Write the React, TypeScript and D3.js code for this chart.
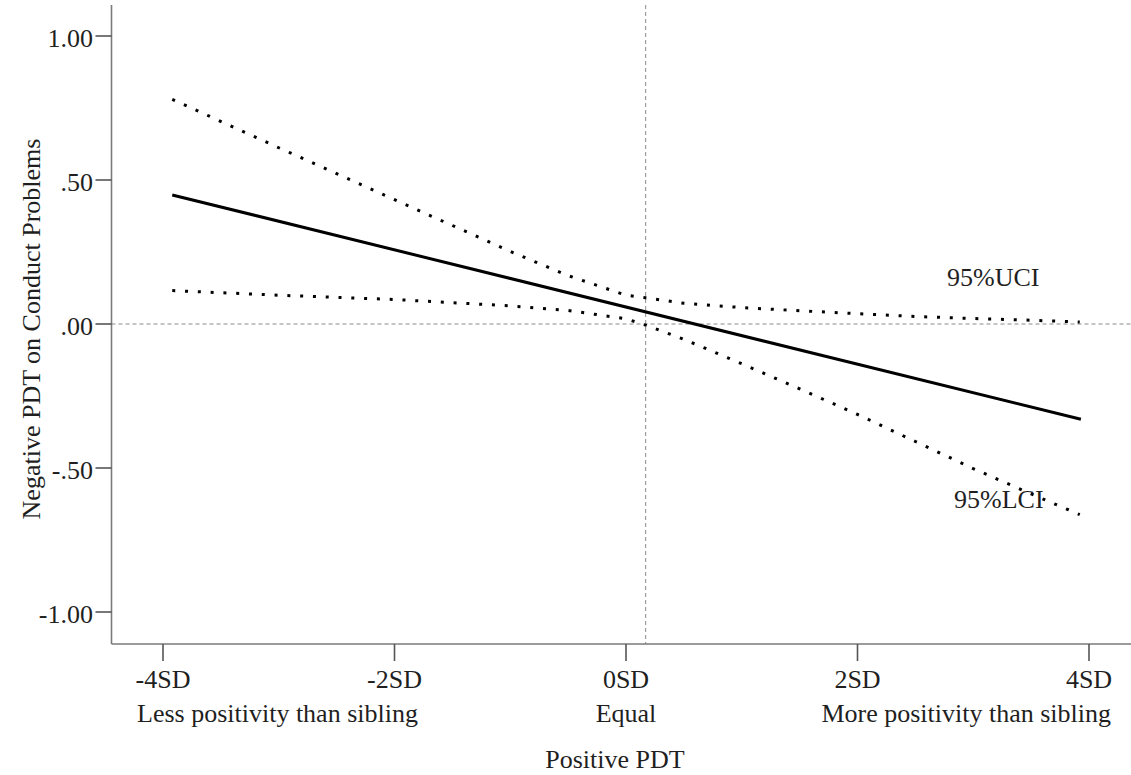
import React from "react";
import * as d3 from "d3";

// ---- data ----
const xTicks = [-4, -2, 0, 2, 4];
const xTickLabels = ["-4SD", "-2SD", "0SD", "2SD", "4SD"];
const yTicks = [1, 0.5, 0, -0.5, -1];
const yTickLabels = ["1.00", ".50", ".00", "-.50", "-1.00"];

// Positive PDT (in SD units) at which the CI bands are read
const sdPoints = [-3.92, -3, -2, -1, -0.5, 0, 0.17, 0.5, 1, 1.5, 2, 2.5, 3, 3.5, 3.92];
const uciValues = [0.78, 0.612, 0.432, 0.252, 0.168, 0.1, 0.091, 0.072, 0.057, 0.046, 0.036, 0.026, 0.019, 0.013, 0.007];
const lciValues = [0.116, 0.1, 0.085, 0.063, 0.047, 0.018, -0.004, -0.053, -0.138, -0.225, -0.314, -0.408, -0.502, -0.59, -0.662];

// simple slope line
const fitX = [-3.92, 3.93];
const fitY = [0.448, -0.331];

// reference lines
const refLineX = 0.17;
const refLineY = 0;

const W = 1131;
const H = 775;
const plotLeft = 111.5;
const plotRight = 1131;
const plotTop = 5;
const plotBottom = 644;

const FONT = "'Liberation Serif', 'Times New Roman', serif";
const TEXT = "#1f1f1f";
const AXIS = "#7a7a7a";

export default function App() {
  const x = d3.scaleLinear().domain([-4, 4]).range([163, 1089]);
  const y = d3.scaleLinear().domain([-1, 1]).range([612, 36]);

  const line = d3
    .line<[number, number]>()
    .x((d) => x(d[0]))
    .y((d) => y(d[1]));

  const uci = line(sdPoints.map((s, i) => [s, uciValues[i]] as [number, number])) || "";
  const lci = line(sdPoints.map((s, i) => [s, lciValues[i]] as [number, number])) || "";
  const fit = line(fitX.map((s, i) => [s, fitY[i]] as [number, number])) || "";

  return (
    <svg
      width={W}
      height={H}
      style={{ position: "absolute", left: 0, top: 0, background: "#fff" }}
      fontFamily={FONT}
    >
      <rect x={0} y={0} width={W} height={H} fill="#fff" />

      {/* reference dashed lines */}
      <line
        x1={plotLeft}
        x2={plotRight}
        y1={y(refLineY)}
        y2={y(refLineY)}
        stroke="#8a8a8a"
        strokeWidth={1}
        strokeDasharray="4 3"
      />
      <line
        x1={x(refLineX)}
        x2={x(refLineX)}
        y1={plotTop}
        y2={plotBottom}
        stroke="#8a8a8a"
        strokeWidth={1}
        strokeDasharray="4 3"
      />

      {/* labels for CIs */}
      <text x={947} y={286} fontSize={26} fill={TEXT}>
        95%UCI
      </text>
      <text x={954} y={508} fontSize={26} fill={TEXT}>
        95%LCI
      </text>

      {/* lines */}
      <path d={uci} fill="none" stroke="#000" strokeWidth={3} strokeDasharray="3 9.8" />
      <path d={lci} fill="none" stroke="#000" strokeWidth={3} strokeDasharray="3 9.8" />
      <path d={fit} fill="none" stroke="#000" strokeWidth={3} />

      {/* axes */}
      <line x1={plotLeft} x2={plotLeft} y1={plotTop} y2={plotBottom} stroke={AXIS} strokeWidth={1.6} />
      <line x1={plotLeft} x2={plotRight} y1={plotBottom} y2={plotBottom} stroke={AXIS} strokeWidth={1.6} />

      {yTicks.map((t, i) => (
        <g key={"y" + i}>
          <line x1={plotLeft - 16} x2={plotLeft} y1={y(t)} y2={y(t)} stroke="#555" strokeWidth={1.6} />
          <text x={93} y={y(t) + 11} textAnchor="end" fontSize={26} fill={TEXT}>
            {yTickLabels[i]}
          </text>
        </g>
      ))}

      {xTicks.map((t, i) => (
        <g key={"x" + i}>
          <line x1={x(t)} x2={x(t)} y1={plotBottom} y2={plotBottom + 17} stroke="#555" strokeWidth={1.6} />
          <text x={x(t)} y={688} textAnchor="middle" fontSize={26} fill={TEXT}>
            {xTickLabels[i]}
          </text>
        </g>
      ))}

      {/* second-row labels */}
      <text x={x(-4) - 26} y={722} textAnchor="start" fontSize={26} fill={TEXT}>
        Less positivity than sibling
      </text>
      <text x={x(0)} y={722} textAnchor="middle" fontSize={26} fill={TEXT}>
        Equal
      </text>
      <text x={x(4) + 22} y={722} textAnchor="end" fontSize={26} fill={TEXT}>
        More positivity than sibling
      </text>

      {/* axis titles */}
      <text x={615} y={768} textAnchor="middle" fontSize={26} fill={TEXT}>
        Positive PDT
      </text>
      <text
        transform={`translate(40, 329) rotate(-90)`}
        textAnchor="middle"
        fontSize={26}
        fill={TEXT}
      >
        Negative PDT on Conduct Problems
      </text>
    </svg>
  );
}
